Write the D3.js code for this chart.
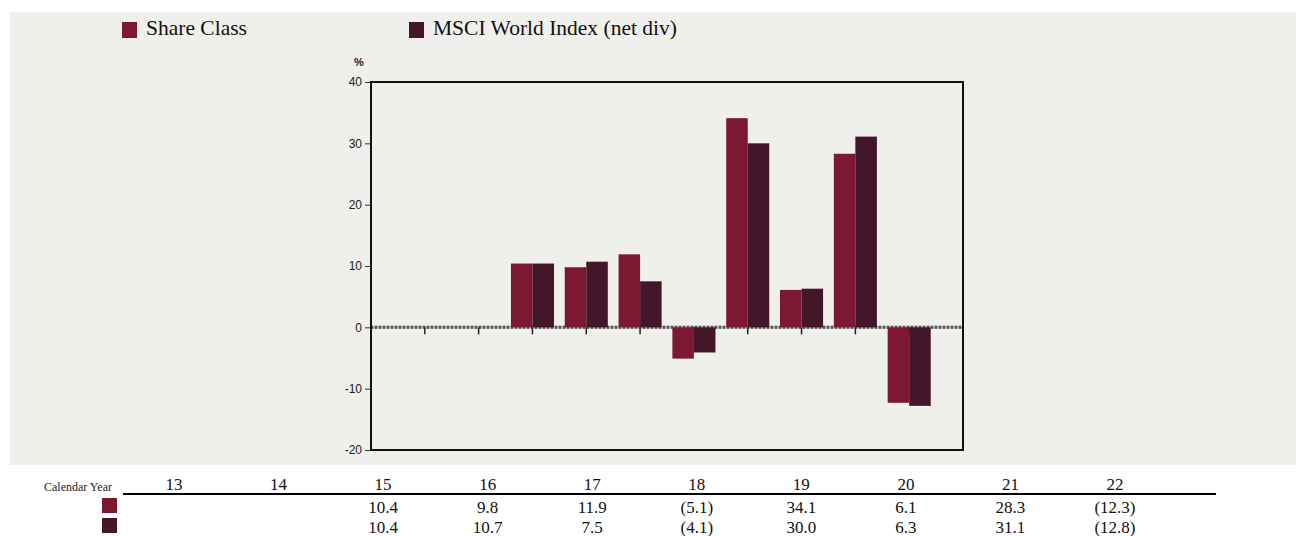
<!DOCTYPE html>
<head>
    <meta charset="utf-8">
    <style>
        body {
            margin: 0;
            background: #fff;
        }
        .serif {
            font-family: "Liberation Serif", "Times New Roman", serif;
        }
        .axis-label {
            font-family: "Liberation Sans", Arial, sans-serif;
            font-size: 12px;
            fill: #222;
        }
    </style>
</head>
<body>
</body>
<script src="https://d3js.org/d3.v7.min.js"></script>
<script>
var years = ["13", "14", "15", "16", "17", "18", "19", "20", "21", "22"];
var shareClass = [null, null, 10.4, 9.8, 11.9, -5.1, 34.1, 6.1, 28.3, -12.3];
var msciWorld = [null, null, 10.4, 10.7, 7.5, -4.1, 30.0, 6.3, 31.1, -12.8];
var seriesNames = ["Share Class", "MSCI World Index (net div)"];
var yTicks = [-20, -10, 0, 10, 20, 30, 40];

var colors = ["#7c1831", "#43162a"];

var width = 1296, height = 536;
var svg = d3.select("body").append("svg")
    .attr("width", width)
    .attr("height", height);

// grey panel behind legend + chart
svg.append("rect")
    .attr("x", 10).attr("y", 12)
    .attr("width", width - 10).attr("height", 453)
    .attr("fill", "#efefeb");

// legend
var legendX = [122, 409];
seriesNames.forEach(function(name, i) {
    svg.append("rect")
        .attr("x", legendX[i]).attr("y", 22)
        .attr("width", 15).attr("height", 16)
        .attr("fill", colors[i]);
    svg.append("text")
        .attr("class", "serif")
        .attr("x", legendX[i] + 24).attr("y", 35)
        .attr("font-size", 21.5)
        .attr("fill", "#111")
        .text(name);
});

var plot = {left: 371, right: 963, top: 82, bottom: 450};

var x = d3.scalePoint()
    .domain(years)
    .range([plot.left, plot.right])
    .padding(1);

var y = d3.scaleLinear()
    .domain([-20, 40])
    .range([plot.bottom, plot.top]);

var barW = x.step() * 0.4;

// % label
svg.append("text")
    .attr("x", 354).attr("y", 66)
    .attr("font-family", "Liberation Sans, Arial, sans-serif")
    .attr("font-size", 11)
    .attr("font-weight", "bold")
    .attr("fill", "#222")
    .text("%");

// y axis
var yAxis = d3.axisLeft(y)
    .tickValues(yTicks)
    .tickFormat(function(d) { return String(d); })
    .tickSize(6)
    .tickPadding(3);
var yg = svg.append("g")
    .attr("transform", "translate(" + plot.left + ",0)")
    .call(yAxis);
yg.select(".domain").remove();
yg.selectAll("line").attr("stroke", "#333");
yg.selectAll("text")
    .attr("class", "axis-label")
    .attr("font-family", null)
    .attr("font-size", null);
yg.attr("font-family", null).attr("font-size", null);

// zero line (dotted)
svg.append("line")
    .attr("x1", plot.left).attr("x2", plot.right)
    .attr("y1", y(0)).attr("y2", y(0))
    .attr("stroke", "#aaa")
    .attr("stroke-width", 3);
svg.append("line")
    .attr("x1", plot.left).attr("x2", plot.right)
    .attr("y1", y(0)).attr("y2", y(0))
    .attr("stroke", "#555")
    .attr("stroke-width", 3)
    .attr("stroke-dasharray", "2,2");

// category ticks under the zero line
svg.append("g").selectAll("line")
    .data(years)
    .enter().append("line")
    .attr("x1", function(d) { return x(d); })
    .attr("x2", function(d) { return x(d); })
    .attr("y1", y(0))
    .attr("y2", y(0) + 7)
    .attr("stroke", "#222")
    .attr("stroke-width", 1.5);

// bars
[shareClass, msciWorld].forEach(function(vals, s) {
    svg.append("g").selectAll("rect")
        .data(years.map(function(yr, i) { return {year: yr, value: vals[i]}; })
            .filter(function(d) { return d.value !== null; }))
        .enter().append("rect")
        .attr("x", function(d) { return x(d.year) - barW + s * barW; })
        .attr("width", barW)
        .attr("y", function(d) { return y(Math.max(0, d.value)); })
        .attr("height", function(d) { return Math.abs(y(d.value) - y(0)); })
        .attr("fill", colors[s]);
});

// frame
svg.append("rect")
    .attr("x", plot.left).attr("y", plot.top)
    .attr("width", plot.right - plot.left)
    .attr("height", plot.bottom - plot.top)
    .attr("fill", "none")
    .attr("stroke", "#111")
    .attr("stroke-width", 2);

// table below
var tx = d3.scalePoint()
    .domain(years)
    .range([174, 1115]);

svg.append("text")
    .attr("class", "serif")
    .attr("x", 44).attr("y", 491)
    .attr("font-size", 12)
    .attr("fill", "#222")
    .text("Calendar Year");

svg.append("line")
    .attr("x1", 123).attr("x2", 1216)
    .attr("y1", 494).attr("y2", 494)
    .attr("stroke", "#000")
    .attr("stroke-width", 2);

svg.append("g").selectAll("text")
    .data(years)
    .enter().append("text")
    .attr("class", "serif")
    .attr("x", function(d) { return tx(d); })
    .attr("y", 490)
    .attr("text-anchor", "middle")
    .attr("font-size", 17)
    .attr("fill", "#111")
    .text(function(d) { return d; });

function fmt(v) {
    if (v === null) return "";
    return v < 0 ? "(" + Math.abs(v).toFixed(1) + ")" : v.toFixed(1);
}

var rowY = [513, 533];
[shareClass, msciWorld].forEach(function(vals, s) {
    svg.append("rect")
        .attr("x", 102).attr("y", rowY[s] - 15)
        .attr("width", 15).attr("height", 15)
        .attr("fill", colors[s]);
    svg.append("g").selectAll("text")
        .data(years.map(function(yr, i) { return {year: yr, value: vals[i]}; }))
        .enter().append("text")
        .attr("class", "serif")
        .attr("x", function(d) { return tx(d.year); })
        .attr("y", rowY[s])
        .attr("text-anchor", "middle")
        .attr("font-size", 17)
        .attr("fill", "#111")
        .text(function(d) { return fmt(d.value); });
});
</script>
